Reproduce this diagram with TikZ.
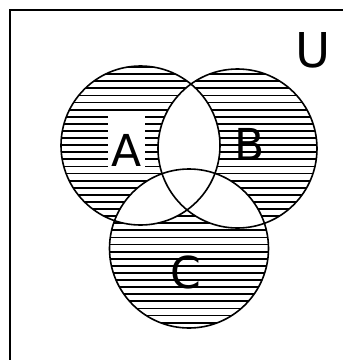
\documentclass[tikz,border=0pt]{standalone}
\usepackage{fontspec}
\setmainfont{DejaVu Sans}
\begin{document}
\begin{tikzpicture}[x=1pt,y=-1pt,
  setline/.style={line width=1.6pt},
  hatchline/.style={line width=1.8pt},
  setlabel/.style={inner sep=0pt,font=\fontsize{44}{50}\selectfont}]
\useasboundingbox (0,0) rectangle (343,360);
\coordinate (A) at (140.5,145.5);
\coordinate (B) at (237.5,148.5);
\coordinate (C) at (189,248.5);
\def\R{79.5pt}
% hatching in the union of the circles
\begin{scope}
  \clip (A) circle[radius=\R] (B) circle[radius=\R] (C) circle[radius=\R];
  \foreach \yy in {0,...,40}{
    \draw[hatchline] (40,{67+7.1*\yy}) -- (330,{67+7.1*\yy});
  }
\end{scope}
% blank the overlaps
\begin{scope}
  \clip (A) circle[radius=\R];
  \fill[white] (B) circle[radius=\R];
  \fill[white] (C) circle[radius=\R];
\end{scope}
\begin{scope}
  \clip (B) circle[radius=\R];
  \fill[white] (C) circle[radius=\R];
\end{scope}
% outlines
\draw[setline] (A) circle[radius=\R];
\draw[setline] (B) circle[radius=\R];
\draw[setline] (C) circle[radius=\R];
% frame (only top and left visible)
\draw[line width=2pt] (10,360) -- (10,10) -- (343,10);
% labels
\node[setlabel,fill=white,text height=51pt,text depth=1pt,inner xsep=3pt] (la) at (126.5,141) {A};
\node[setlabel] (lb) at (250,144.5) {B};
\node[setlabel] (lc) at (186,272) {C};
\node[setlabel,font=\fontsize{48}{54}\selectfont] (lu) at (313.5,50.5) {U};
\end{tikzpicture}
\end{document}
